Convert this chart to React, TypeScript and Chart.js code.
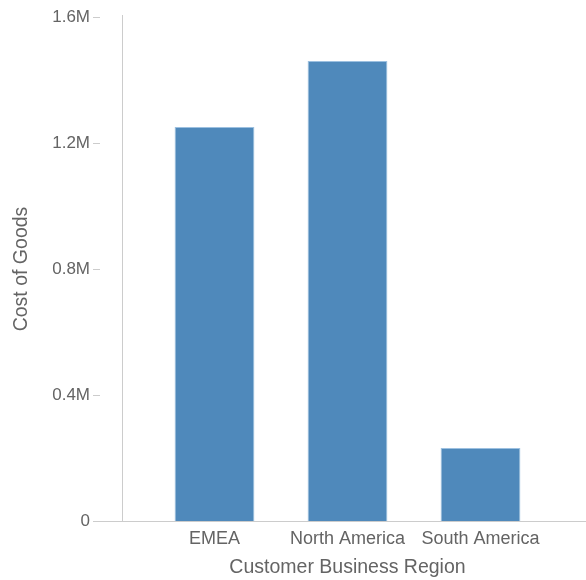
import React, { useEffect, useRef } from "react";
import { Chart, registerables } from "chart.js";

Chart.register(...registerables);

const categories = ["EMEA", "North America", "South America"];
const costOfGoods = [1251000, 1460000, 232000];
const yTicks = [0, 400000, 800000, 1200000, 1600000];
const xTitle = "Customer Business Region";
const yTitle = "Cost of Goods";

const AXIS_COLOR = "#cccccc";
const TEXT_COLOR = "#646464";
const FONT = "'Liberation Sans', Arial, sans-serif";

const axisPlugin = {
  id: "customAxes",
  beforeDatasetsDraw(chart: any) {
    const { ctx, chartArea, scales } = chart;
    const y = scales.y;
    ctx.save();
    ctx.strokeStyle = AXIS_COLOR;
    ctx.lineWidth = 1;
    // y axis line
    ctx.beginPath();
    ctx.moveTo(122.5, chartArea.top - 2);
    ctx.lineTo(122.5, chartArea.bottom);
    ctx.stroke();
    // x axis line
    const yb = Math.round(y.getPixelForValue(0)) + 0.5;
    ctx.beginPath();
    ctx.moveTo(93, yb);
    ctx.lineTo(chart.width, yb);
    ctx.stroke();
    // tick marks
    yTicks.forEach((v) => {
      const py = Math.round(y.getPixelForValue(v)) + 0.5;
      ctx.beginPath();
      ctx.moveTo(93, py);
      ctx.lineTo(100, py);
      ctx.stroke();
    });
    ctx.restore();
  },
};

export default function App() {
  const ref = useRef<HTMLCanvasElement | null>(null);

  useEffect(() => {
    document.body.style.margin = "0";
    const canvas = ref.current;
    if (!canvas) return;
    const chart = new Chart(canvas, {
      type: "bar",
      data: {
        labels: categories,
        datasets: [
          {
            label: yTitle,
            data: costOfGoods,
            backgroundColor: "#4f89bb",
            borderColor: "#9cc0e0",
            borderWidth: 1,
            barPercentage: 0.6,
            categoryPercentage: 1,
          },
        ],
      },
      options: {
        animation: false,
        responsive: false,
        maintainAspectRatio: false,
        layout: { padding: { top: 17, right: 39, bottom: 0, left: 0 } },
        plugins: {
          legend: { display: false },
          tooltip: { enabled: false },
        },
        scales: {
          x: {
            type: "category",
            offset: true,
            grid: { display: false, drawTicks: false },
            border: { display: false },
            ticks: {
              color: TEXT_COLOR,
              font: { family: FONT, size: 18 },
              padding: 7,
              maxRotation: 0,
              autoSkip: false,
            },
            title: {
              display: true,
              text: xTitle,
              color: TEXT_COLOR,
              font: { family: FONT, size: 19.5 },
              padding: { top: 0, bottom: 1 },
            },
            afterFit: (scale: any) => {
              scale.height = 59;
              scale.paddingLeft = 0;
              scale.paddingRight = 0;
            },
          },
          y: {
            min: 0,
            max: 1600000,
            afterBuildTicks: (scale: any) => {
              scale.ticks = yTicks.map((v) => ({ value: v }));
            },
            grid: { display: false, drawTicks: false },
            border: { display: false },
            ticks: {
              color: TEXT_COLOR,
              font: { family: FONT, size: 17 },
              padding: 58,
              callback: (v: any) =>
                Number(v) === 0 ? "0" : (Number(v) / 1000000).toFixed(1) + "M",
            },
            title: {
              display: true,
              text: yTitle,
              color: TEXT_COLOR,
              font: { family: FONT, size: 19.5 },
              padding: { top: 10, bottom: 0 },
            },
            afterFit: (scale: any) => {
              scale.width = 148;
              scale.paddingTop = 0;
              scale.paddingBottom = 0;
            },
          },
        },
      },
      plugins: [axisPlugin],
    });
    return () => chart.destroy();
  }, []);

  return (
    <div style={{ width: 586, height: 580 }}>
      <canvas ref={ref} width={586} height={580} style={{ display: "block" }} />
    </div>
  );
}
